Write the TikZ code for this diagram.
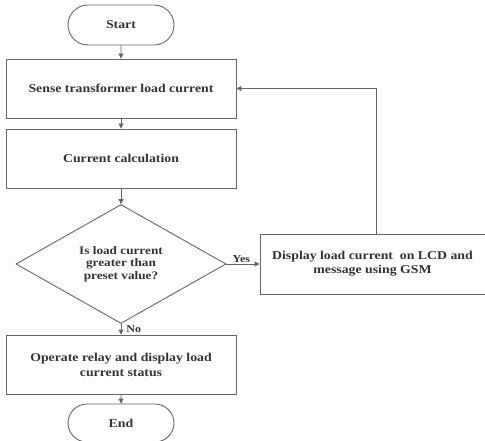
\documentclass[tikz,border=0pt]{standalone}
\usepackage{fontspec}
\setmainfont{Liberation Serif}
\newfontfamily\wfont[FakeStretch=1.15]{Liberation Serif}
\usetikzlibrary{shapes.geometric,shapes.misc,arrows.meta}
\begin{document}
\begin{tikzpicture}[x=1pt,y=1pt,
  every node/.style={font=\wfont\bfseries\fontsize{12}{15}\selectfont, text=black!80},
  ln/.style={draw=black!60, line width=0.9pt},
  arr/.style={ln, -{Triangle[length=5pt,width=5pt]}},
  term/.style={rounded rectangle, ln, minimum width=106pt, minimum height=40pt, inner sep=0pt},
  proc/.style={rectangle, ln, minimum width=230pt, minimum height=59pt, inner sep=0pt, align=center},
  dec/.style={diamond, ln, minimum width=210pt, minimum height=114pt, inner sep=0pt, align=center,
    font=\wfont\bfseries\fontsize{11.5}{12.5}\selectfont},
  lab/.style={font=\wfont\bfseries\fontsize{10.5}{12}\selectfont, inner sep=1pt}
]
\useasboundingbox (0,0) rectangle (485,-441);
\node[term] (start) at (121,-25) {Start};
\node[proc] (sense) at (121,-88.5) {Sense transformer load current};
\node[proc] (calc) at (121,-158.5) {Current calculation};
\node[dec] (dec) at (121,-264) {Is load current\\greater than\\preset value?};
\node[proc, minimum width=225pt, minimum height=60pt, font=\wfont\bfseries\fontsize{12}{14}\selectfont] (disp) at (372.5,-264) {Display load current \ on LCD and\\message using GSM};
\node[proc] (op) at (121,-364.5) {Operate relay and display load\\current status};
\node[term, minimum height=38pt] (end) at (121,-423) {End};
\draw[arr] (start) -- (sense);
\draw[arr] (sense) -- (calc);
\draw[arr] (calc) -- (dec);
\draw[arr] (dec) -- node[lab, above, pos=0.45] {Yes} (disp);
\draw[arr] (dec) -- node[lab, right, pos=0.5, xshift=4pt] {No} (op);
\draw[arr] ([xshift=3.5pt]disp.north) |- (sense.east);
\draw[arr] (op) -- (end);
\end{tikzpicture}
\end{document}
